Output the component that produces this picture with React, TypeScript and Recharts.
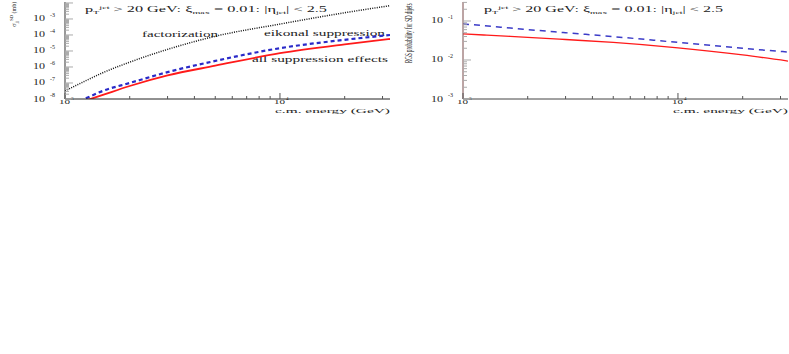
import { LineChart, Line, XAxis, YAxis } from 'recharts';

// c.m. energy grid (GeV)
const energies = [1000, 1250, 1500, 2000, 3000, 5000, 10000, 20000, 32500];

// left panel: SD dijet cross section (mb)
const sigmaFactorization = [3.2e-8, 1.4e-7, 4.4e-7, 2.0e-6, 1.26e-5, 8.3e-5, 4.8e-4, 2.45e-3, 6.8e-3];
const sigmaEikonal = [null, 1.1e-8, 3.2e-8, 1.0e-7, 4.8e-7, 2.4e-6, 1.5e-5, 5.0e-5, 1.0e-4];
const sigmaAllSuppression = [null, 8e-9, 1.8e-8, 6.5e-8, 3.0e-7, 1.2e-6, 7.3e-6, 2.6e-5, 5.6e-5];

// right panel: RGS probability
const rgsEikonal = [0.0838, 0.0759, 0.0692, 0.0603, 0.0501, 0.0398, 0.0282, 0.02, 0.016];
const rgsAllSuppression = [0.0465, 0.0437, 0.0415, 0.0382, 0.0335, 0.0282, 0.0205, 0.0135, 0.0094];

const xDomain = [1000, 32500];
const xTicks = [1000, 2000, 3000, 4000, 5000, 6000, 7000, 8000, 9000, 10000, 20000, 30000];
const xLabels = [1000, 10000];

const leftYDomain = [1e-8, 0.0115];
const leftYLabels = [1e-8, 1e-7, 1e-6, 1e-5, 1e-4, 1e-3];
const rightYDomain = [1e-3, 0.307];
const rightYLabels = [1e-3, 1e-2, 1e-1];

const leftData = energies.map((e, i) => ({
    energy: e,
    fact: sigmaFactorization[i],
    eik: sigmaEikonal[i],
    all: sigmaAllSuppression[i],
}));

const rightData = energies.map((e, i) => ({
    energy: e,
    eik: rgsEikonal[i],
    all: rgsAllSuppression[i],
}));

function minorTicks(lo: number, hi: number) {
    const out: number[] = [];
    for (let d = Math.floor(Math.log10(lo)); d <= Math.ceil(Math.log10(hi)); d++) {
        for (let m = 1; m <= 9; m++) {
            const v = m * Math.pow(10, d);
            if (v >= lo * 0.999 && v <= hi) out.push(Number(v.toPrecision(3)));
        }
    }
    return out;
}

const FONT = 'Liberation Serif, serif';

function isDecade(v: number) {
    const e = Math.log10(v);
    return Math.abs(e - Math.round(e)) < 1e-6;
}

function YTick(props: any) {
    const { x, y, payload, labels } = props;
    const v = payload.value;
    const major = isDecade(v);
    const exp = Math.round(Math.log10(v));
    const show = labels.some((l: number) => Math.abs(l - v) / l < 1e-6);
    return (
        <g>
            <line x1={x} x2={x + (major ? 8 : 4)} y1={y} y2={y} stroke="#aaa" strokeWidth={1} />
            {show && (
                <g fontFamily={FONT} fill="#222">
                    <text x={x - 20} y={y + 2.5} textAnchor="end" fontSize={8} textLength={12} lengthAdjust="spacingAndGlyphs">10</text>
                    <text x={x - 15} y={y - 2} fontSize={6}>{exp}</text>
                </g>
            )}
        </g>
    );
}

function XTick(props: any) {
    const { x, y, payload } = props;
    const v = payload.value;
    const major = isDecade(v);
    const show = xLabels.includes(v);
    const exp = Math.round(Math.log10(v));
    return (
        <g>
            <line x1={x} x2={x} y1={y} y2={y - (major ? 6 : 3)} stroke="#555" strokeWidth={1} />
            {show && (
                <g fontFamily={FONT} fill="#222">
                    <text x={x - 6} y={y + 5} fontSize={6.5} textLength={11} lengthAdjust="spacingAndGlyphs">10</text>
                    <text x={x + 6} y={y + 1} fontSize={5}>{exp}</text>
                </g>
            )}
        </g>
    );
}

function Header({ x, width }: { x: number; width: number }) {
    return (
        <text x={x} y={12} fontFamily={FONT} fontSize={8} fill="#222" textLength={width} lengthAdjust="spacingAndGlyphs">
            p
            <tspan fontSize={5} dy={1.5}>T</tspan>
            <tspan fontSize={5} dy={-4.5}>jet</tspan>
            <tspan fontSize={8} dy={3}>{' > 20 GeV:  ξ'}</tspan>
            <tspan fontSize={5} dy={1.5}>max</tspan>
            <tspan fontSize={8} dy={-1.5}>{' = 0.01:  |η'}</tspan>
            <tspan fontSize={5} dy={1.5}>jet</tspan>
            <tspan fontSize={8} dy={-1.5}>{'| < 2.5'}</tspan>
        </text>
    );
}

function EnergyTitle({ x, width }: { x: number; width: number }) {
    return (
        <text x={x} y={113} fontFamily={FONT} fontSize={7} fill="#222" textLength={width} lengthAdjust="spacingAndGlyphs">
            c.m. energy (GeV)
        </text>
    );
}

export default function App() {
    const leftTicks = minorTicks(leftYDomain[0], leftYDomain[1]);
    const rightTicks = minorTicks(rightYDomain[0], rightYDomain[1]);
    return (
        <div style={{ position: 'absolute', left: 0, top: 0, width: 789, height: 354, background: '#fff' }}>
            <div style={{ position: 'absolute', left: 0, top: 0 }}>
                <LineChart width={395} height={120} data={leftData} margin={{ top: 2, right: 5, bottom: 0, left: 25 }}>
                    <XAxis
                        dataKey="energy"
                        type="number"
                        scale="log"
                        domain={xDomain}
                        allowDataOverflow
                        ticks={xTicks}
                        interval={0}
                        height={21}
                        tickSize={0}
                        tickMargin={0}
                        tickLine={false}
                        stroke="#222"
                        tick={(p: any) => <XTick {...p} />}
                    />
                    <XAxis xAxisId="top" dataKey="energy" type="number" scale="log" domain={xDomain} orientation="top" height={0} tick={false} stroke="#999" />
                    <YAxis
                        type="number"
                        scale="log"
                        domain={leftYDomain}
                        allowDataOverflow
                        ticks={leftTicks}
                        interval={0}
                        width={40}
                        tickSize={0}
                        tickMargin={0}
                        tickLine={false}
                        stroke="#333"
                        tick={(p: any) => <YTick {...p} labels={leftYLabels} />}
                    />
                    <YAxis yAxisId="right" orientation="right" type="number" scale="log" domain={leftYDomain} width={0} tick={false} stroke="#777" />
                    <Line dataKey="fact" stroke="#111" strokeWidth={1.5} strokeDasharray="1 1.3" dot={false} type="monotone" isAnimationActive={false} />
                    <Line dataKey="eik" stroke="#2a2ac8" strokeWidth={2.2} strokeDasharray="4 3" dot={false} type="monotone" isAnimationActive={false} />
                    <Line dataKey="all" stroke="#ff1a1a" strokeWidth={1.8} dot={false} type="monotone" isAnimationActive={false} />
                    <Header x={85} width={242} />
                    <g fontFamily={FONT} fontSize={8} fill="#222">
                        <text x={142} y={37} textLength={76} lengthAdjust="spacingAndGlyphs">factorization</text>
                        <text x={264} y={36} textLength={121} lengthAdjust="spacingAndGlyphs">eikonal suppression</text>
                        <text x={252} y={62} textLength={136} lengthAdjust="spacingAndGlyphs">all suppression effects</text>
                    </g>
                    <EnergyTitle x={275} width={115} />
                    <text transform="translate(16,27) rotate(-90)" fontFamily={FONT} fontSize={7} fill="#222">
                        σ<tspan fontSize={4.5} dy={2}>jj</tspan><tspan fontSize={4.5} dy={-5}>SD</tspan><tspan fontSize={6} dy={3}> (mb)</tspan>
                    </text>
                </LineChart>
            </div>
            <div style={{ position: 'absolute', left: 400, top: 0 }}>
                <LineChart width={389} height={120} data={rightData} margin={{ top: 2, right: 1, bottom: 0, left: 23 }}>
                    <XAxis
                        dataKey="energy"
                        type="number"
                        scale="log"
                        domain={xDomain}
                        allowDataOverflow
                        ticks={xTicks}
                        interval={0}
                        height={21}
                        tickSize={0}
                        tickMargin={0}
                        tickLine={false}
                        stroke="#444"
                        tick={(p: any) => <XTick {...p} />}
                    />
                    <XAxis xAxisId="top" dataKey="energy" type="number" scale="log" domain={xDomain} orientation="top" height={0} tick={false} stroke="#a08080" />
                    <YAxis
                        type="number"
                        scale="log"
                        domain={rightYDomain}
                        allowDataOverflow
                        ticks={rightTicks}
                        interval={0}
                        width={40}
                        tickSize={0}
                        tickMargin={0}
                        tickLine={false}
                        stroke="#7a4a4a"
                        tick={(p: any) => <YTick {...p} labels={rightYLabels} />}
                    />
                    <YAxis yAxisId="right" orientation="right" type="number" scale="log" domain={rightYDomain} width={0} tick={false} stroke="#d03a3a" />
                    <Line dataKey="eik" stroke="#3c3cc8" strokeWidth={1.5} strokeDasharray="6 5" dot={false} type="monotone" isAnimationActive={false} />
                    <Line dataKey="all" stroke="#ff1a1a" strokeWidth={1.3} dot={false} type="monotone" isAnimationActive={false} />
                    <Header x={84} width={239} />
                    <EnergyTitle x={273} width={115} />
                    <text transform="translate(12,63) rotate(-90) scale(0.5,1)" fontFamily={FONT} fontSize={10} fill="#222">
                        RGS probability for SD dijets
                    </text>
                </LineChart>
            </div>
        </div>
    );
}
